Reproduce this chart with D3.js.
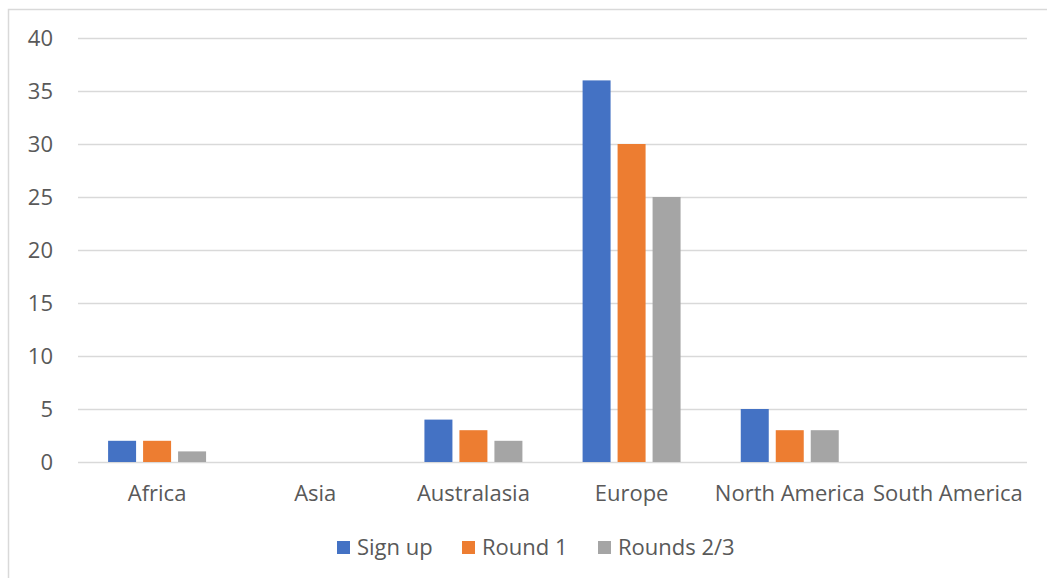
<!DOCTYPE html>
<html>
<head>
<meta charset="utf-8">
<script src="https://cdn.jsdelivr.net/npm/d3@7"></script>
<style>
  body { margin: 0; background: #fff; }
  svg { display: block; font-family: "Open Sans", "Noto Sans", sans-serif; }
</style>
</head>
<body>
<svg id="chart" width="1047" height="578"></svg>
<script>
const regions = ['Africa', 'Asia', 'Australasia', 'Europe', 'North America', 'South America'];
const seriesNames = ['Sign up', 'Round 1', 'Rounds 2/3'];
const signUp = [2, 0, 4, 36, 5, 0];
const round1 = [2, 0, 3, 30, 3, 0];
const rounds23 = [1, 0, 2, 25, 3, 0];
const yTicks = [0, 5, 10, 15, 20, 25, 30, 35, 40];
const colors = ['#4472C4', '#ED7D31', '#A5A5A5'];

const seriesValues = [signUp, round1, rounds23];
const rows = regions.map((r, i) => ({
    region: r,
    values: seriesNames.map((s, j) => ({ key: s, value: seriesValues[j][i] }))
}));

const svg = d3.select('#chart');
const textColor = '#595959';

// outer chart border (right/bottom edges are cut off in the picture)
svg.append('rect')
    .attr('x', 8.5).attr('y', 9.5)
    .attr('width', 1100).attr('height', 600)
    .attr('fill', 'none')
    .attr('stroke', '#d9d9d9')
    .attr('stroke-width', 1.5);

const plot = { left: 78, right: 1027, top: 38, bottom: 462 };

const x0 = d3.scaleBand()
    .domain(regions)
    .range([plot.left, plot.right])
    .padding(0);

const x1 = d3.scaleBand()
    .domain(seriesNames)
    .range([0, x0.bandwidth()])
    .paddingInner(0.2)
    .paddingOuter(0.86);

const y = d3.scaleLinear()
    .domain([0, 40])
    .range([plot.bottom, plot.top]);

// gridlines
svg.append('g')
    .selectAll('line')
    .data(yTicks)
    .enter()
    .append('line')
    .attr('x1', plot.left)
    .attr('x2', plot.right)
    .attr('y1', d => Math.round(y(d)) + 0.5)
    .attr('y2', d => Math.round(y(d)) + 0.5)
    .attr('stroke', '#d9d9d9')
    .attr('stroke-width', 1.5);

// y tick labels
svg.append('g')
    .selectAll('text')
    .data(yTicks)
    .enter()
    .append('text')
    .attr('x', 53)
    .attr('y', d => y(d))
    .attr('dy', '0.35em')
    .attr('text-anchor', 'end')
    .attr('font-size', '22px')
    .attr('fill', textColor)
    .text(d => d);

// bars
const groups = svg.append('g')
    .selectAll('g')
    .data(rows)
    .enter()
    .append('g')
    .attr('transform', d => `translate(${x0(d.region)},0)`);

groups.selectAll('rect')
    .data(d => d.values)
    .enter()
    .append('rect')
    .attr('x', d => x1(d.key))
    .attr('y', d => y(d.value))
    .attr('width', x1.bandwidth())
    .attr('height', d => y(0) - y(d.value))
    .attr('fill', (d, i) => colors[i]);

// category labels
svg.append('g')
    .selectAll('text')
    .data(regions)
    .enter()
    .append('text')
    .attr('x', d => x0(d) + x0.bandwidth() / 2)
    .attr('y', 493)
    .attr('dy', '0.35em')
    .attr('text-anchor', 'middle')
    .attr('font-size', '22px')
    .attr('fill', textColor)
    .text(d => d);

// legend
const legendX = [337, 462, 598];
const legend = svg.append('g')
    .selectAll('g')
    .data(seriesNames)
    .enter()
    .append('g')
    .attr('transform', (d, i) => `translate(${legendX[i]},547)`);

legend.append('rect')
    .attr('x', 0)
    .attr('y', -6)
    .attr('width', 13)
    .attr('height', 13)
    .attr('fill', (d, i) => colors[i]);

legend.append('text')
    .attr('x', 20)
    .attr('y', 0)
    .attr('dy', '0.35em')
    .attr('font-size', '22px')
    .attr('fill', textColor)
    .text(d => d);
</script>
</body>
</html>
